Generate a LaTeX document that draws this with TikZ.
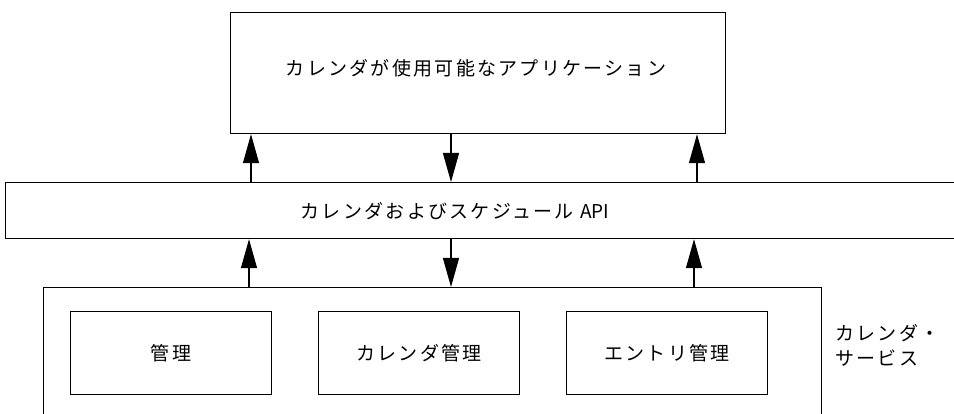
\documentclass[tikz,border=0pt]{standalone}
\usepackage{fontspec}
\setmainfont{Noto Sans CJK JP}[LetterSpace=12]
\newfontfamily\latn{Noto Sans CJK JP}
\usetikzlibrary{arrows.meta}
\tikzset{
  box/.style={draw, line width=1.2pt, inner sep=0pt, anchor=north west},
  lbl/.style={font=\fontsize{19pt}{25pt}\selectfont, inner sep=0pt},
  arr/.style={line width=1.2pt, -{Triangle[length=29pt,width=16pt]}}
}
\begin{document}
\begin{tikzpicture}[x=1pt,y=-1pt]
\useasboundingbox (0,0) rectangle (954,414);
\clip (0,0) rectangle (954,414);
% boxes
\node[box, minimum width=495pt, minimum height=121pt] (app) at (230,12) {};
\node[lbl] (apptext) at (476,68) {カレンダが使用可能なアプリケーション};
\node[box, minimum width=960pt, minimum height=56pt] (api) at (5,182) {};
\node[lbl] (apitext) at (455,211) {カレンダおよびスケジュール {\latn API}};
\node[box, minimum width=778pt, minimum height=140pt] (svc) at (43,287) {};
\node[box, minimum width=201pt, minimum height=83pt] (m1) at (70,311) {};
\node[lbl] at (m1.center) {管理};
\node[box, minimum width=201pt, minimum height=83pt] (m2) at (318,311) {};
\node[lbl] at (m2.center) {カレンダ管理};
\node[box, minimum width=201pt, minimum height=83pt] (m3) at (566,311) {};
\node[lbl] at (m3.center) {エントリ管理};
\node[lbl, anchor=west, align=left] (svclabel) at (835,345) {カレンダ・\\サービス};
% arrow columns
\coordinate (c1) at (251,0);
\coordinate (c2) at (451,0);
\coordinate (c3) at (697,0);
\coordinate (d1) at (249,0);
\coordinate (d2) at (451,0);
\coordinate (d3) at (694,0);
\draw[arr] (api.north -| c1) -- (app.south -| c1);
\draw[arr] (app.south -| c2) -- (api.north -| c2);
\draw[arr] (api.north -| c3) -- (app.south -| c3);
\draw[arr] (svc.north -| d1) -- (api.south -| d1);
\draw[arr] (api.south -| d2) -- (svc.north -| d2);
\draw[arr] (svc.north -| d3) -- (api.south -| d3);
\end{tikzpicture}
\end{document}
